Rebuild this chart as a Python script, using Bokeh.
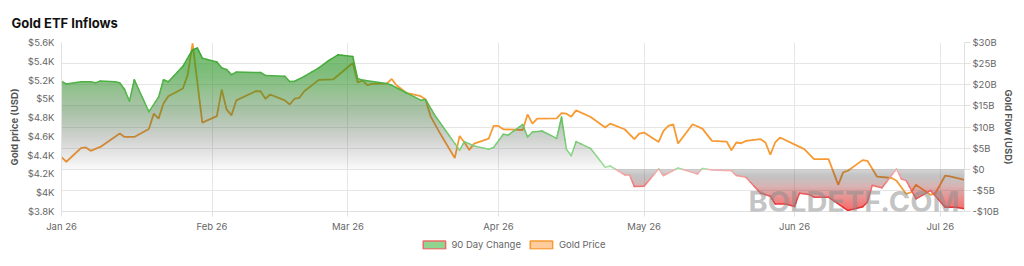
import numpy as np
import pandas as pd
from bokeh.plotting import figure
from bokeh.layouts import column
from bokeh.models import (Range1d, LinearAxis, FixedTicker, DatetimeTickFormatter,
                          Legend, LegendItem, Label)
from bokeh.embed import file_html
from bokeh.resources import INLINE

# ---------------- data ----------------
gold_dates = ["2026-01-01", "2026-01-02", "2026-01-05", "2026-01-06", "2026-01-07", "2026-01-09",
              "2026-01-13", "2026-01-14", "2026-01-16", "2026-01-19", "2026-01-20", "2026-01-21",
              "2026-01-22", "2026-01-23", "2026-01-26", "2026-01-27", "2026-01-28", "2026-01-30",
              "2026-02-02", "2026-02-03", "2026-02-04", "2026-02-05", "2026-02-06", "2026-02-10",
              "2026-02-11", "2026-02-12", "2026-02-13", "2026-02-16", "2026-02-17", "2026-02-18",
              "2026-02-19", "2026-02-20", "2026-02-23", "2026-02-26", "2026-03-02", "2026-03-03",
              "2026-03-04", "2026-03-05", "2026-03-06", "2026-03-09", "2026-03-10", "2026-03-11",
              "2026-03-13", "2026-03-16", "2026-03-17", "2026-03-18", "2026-03-20", "2026-03-23",
              "2026-03-24", "2026-03-25", "2026-03-26", "2026-03-27", "2026-03-30", "2026-03-31",
              "2026-04-01", "2026-04-02", "2026-04-06", "2026-04-07", "2026-04-08", "2026-04-09",
              "2026-04-13", "2026-04-14", "2026-04-15", "2026-04-16", "2026-04-17", "2026-04-20",
              "2026-04-23", "2026-04-24", "2026-04-27", "2026-04-29", "2026-04-30", "2026-05-01",
              "2026-05-04", "2026-05-05", "2026-05-06", "2026-05-07", "2026-05-08", "2026-05-11",
              "2026-05-13", "2026-05-15", "2026-05-18", "2026-05-19", "2026-05-20", "2026-05-21",
              "2026-05-22", "2026-05-25", "2026-05-26", "2026-05-27", "2026-05-28", "2026-05-29",
              "2026-06-03", "2026-06-05", "2026-06-08", "2026-06-10", "2026-06-11", "2026-06-12",
              "2026-06-15", "2026-06-16", "2026-06-18", "2026-06-21", "2026-06-22", "2026-06-24",
              "2026-06-25", "2026-06-26", "2026-06-29", "2026-06-30", "2026-07-02", "2026-07-03",
              "2026-07-06"]
gold_price = [4380, 4330, 4475, 4482, 4446, 4488,
              4630, 4594, 4594, 4679, 4842, 4789,
              4951, 5028, 5110, 5258, 5590, 4747,
              4816, 5099, 4887, 4824, 4983, 5081,
              5081, 5001, 5046, 4983, 4940, 5001,
              5011, 5081, 5202, 5208, 5382, 5176,
              5194, 5145, 5160, 5163, 5212, 5145,
              5064, 5028, 4993, 4816, 4630, 4369,
              4605, 4535, 4456, 4524, 4577, 4711,
              4711, 4676, 4668, 4834, 4736, 4789,
              4792, 4848, 4842, 4810, 4877, 4806,
              4694, 4736, 4676, 4570, 4630, 4641,
              4541, 4658, 4711, 4729, 4524, 4729,
              4683, 4552, 4545, 4453, 4535, 4527,
              4552, 4570, 4535, 4404, 4535, 4588,
              4464, 4358, 4358, 4083, 4217, 4234,
              4347, 4340, 4171, 4157, 4128, 3987,
              4005, 4086, 3977, 3995, 4181, 4175,
              4136]

flow_dates = ["2026-01-01", "2026-01-02", "2026-01-05", "2026-01-07", "2026-01-08", "2026-01-09",
              "2026-01-12", "2026-01-13", "2026-01-14", "2026-01-15", "2026-01-16", "2026-01-19",
              "2026-01-21", "2026-01-22", "2026-01-23", "2026-01-26", "2026-01-28", "2026-01-29",
              "2026-01-30", "2026-02-02", "2026-02-03", "2026-02-04", "2026-02-05", "2026-02-06",
              "2026-02-11", "2026-02-12", "2026-02-16", "2026-02-17", "2026-02-18", "2026-02-20",
              "2026-02-23", "2026-02-25", "2026-02-27", "2026-03-02", "2026-03-03", "2026-03-04",
              "2026-03-09", "2026-03-10", "2026-03-13", "2026-03-16", "2026-03-17", "2026-03-19",
              "2026-03-24", "2026-03-25", "2026-03-27", "2026-03-30", "2026-03-31", "2026-04-02",
              "2026-04-03", "2026-04-06", "2026-04-07", "2026-04-08", "2026-04-10", "2026-04-13",
              "2026-04-14", "2026-04-15", "2026-04-16", "2026-04-17", "2026-04-20", "2026-04-23",
              "2026-04-24", "2026-04-27", "2026-04-28", "2026-04-29", "2026-05-01", "2026-05-04",
              "2026-05-05", "2026-05-08", "2026-05-12", "2026-05-13", "2026-05-15", "2026-05-19",
              "2026-05-20", "2026-05-22", "2026-05-25", "2026-05-27", "2026-05-28", "2026-05-30",
              "2026-06-01", "2026-06-02", "2026-06-04", "2026-06-05", "2026-06-08", "2026-06-12",
              "2026-06-15", "2026-06-16", "2026-06-17", "2026-06-19", "2026-06-22", "2026-06-23",
              "2026-06-24", "2026-06-26", "2026-06-29", "2026-07-02", "2026-07-04", "2026-07-06"]
flow_bn = [20.8, 20.2, 20.7, 20.7, 20.45, 20.9,
           20.7, 20.45, 18.9, 16.1, 21.2, 13.6,
           17.1, 21.2, 20.7, 24.35, 28.3, 28.7,
           26.3, 25.4, 24.0, 23.6, 22.4, 23.0,
           22.9, 22.2, 22.0, 20.75, 20.8, 22.0,
           24.0, 25.7, 27.1, 26.7, 21.5, 21.1,
           20.3, 19.9, 18.1, 16.35, 16.5, 12.6,
           4.5, 6.55, 5.5, 4.75, 5.15, 8.3,
           8.1, 10.6, 7.65, 8.8, 9.05, 7.3,
           12.35, 4.75, 3.2, 6.55, 4.9, 0.45,
           0.8, -1.35, -1.35, -4.1, -4.0, 0.1,
           -1.5, 0.3, -1.1, 0.2, -0.2, -0.35,
           -1.5, -1.9, -5.67, -6.4, -8.2, -8.2,
           -8.8, -5.67, -6.0, -6.6, -6.6, -9.77,
           -8.9, -7.8, -3.8, -4.4, 0.1, -2.3,
           -2.7, -7.0, -5.05, -8.97, -8.97, -9.37]

price_ticks = [3800, 4000, 4200, 4400, 4600, 4800, 5000, 5200, 5400, 5600]
price_tick_labels = ["$3.8K", "$4K", "$4.2K", "$4.4K", "$4.6K", "$4.8K", "$5K", "$5.2K", "$5.4K", "$5.6K"]
flow_ticks = [-10, -5, 0, 5, 10, 15, 20, 25, 30]
flow_tick_labels = ["-$10B", "-$5B", "$0", "$5B", "$10B", "$15B", "$20B", "$25B", "$30B"]
month_ticks = ["2026-01-01", "2026-02-01", "2026-03-01", "2026-04-01", "2026-05-01", "2026-06-01", "2026-07-01"]
series_names = ["90 Day Change", "Gold Price"]

# ---------------- helpers ----------------
EPOCH = pd.Timestamp("1970-01-01")


def to_ms(ds):
    return ((pd.to_datetime(ds) - EPOCH) / pd.Timedelta(milliseconds=1)).to_numpy(dtype=float)


def densify(x, v, levels):
    """insert the points where the drawn polyline crosses the given levels"""
    xs, vs = [x[0]], [v[0]]
    for i in range(len(x) - 1):
        x0, x1, v0, v1 = x[i], x[i + 1], v[i], v[i + 1]
        cr = []
        for L in levels:
            if (v0 - L) * (v1 - L) < 0:
                t = (L - v0) / (v1 - v0)
                cr.append((t, L))
        cr.sort()
        for t, L in cr:
            xs.append(x0 + t * (x1 - x0))
            vs.append(L)
        xs.append(x1)
        vs.append(v1)
    return np.array(xs), np.array(vs)


def interp_stops(val, stops):
    ks = [s[0] for s in stops]
    order = np.argsort(ks)
    ks = np.array(ks)[order]
    vals = np.array([s[1] for s in stops], dtype=float)[order]
    return [float(np.interp(val, ks, vals[:, c])) for c in range(vals.shape[1])]


FILL_POS = [(0, (70, 70, 70, 0.03)), (3, (70, 70, 70, 0.12)), (7, (65, 75, 65, 0.24)),
            (12, (55, 105, 50, 0.38)), (20, (40, 140, 35, 0.60)), (30, (30, 155, 25, 0.82))]
FILL_NEG = [(0, (60, 60, 60, 0.22)), (-1.5, (60, 60, 60, 0.32)), (-4, (150, 50, 50, 0.40)),
            (-7, (220, 40, 40, 0.62)), (-10, (240, 30, 30, 0.85))]
LINE_POS = [(0, (160, 225, 160)), (6, (120, 205, 115)), (15, (90, 185, 80)), (30, (60, 165, 50))]
LINE_NEG = [(0, (245, 180, 180)), (-3, (240, 130, 130)), (-7, (235, 70, 70)), (-10, (230, 40, 40))]


def hexc(rgb):
    return "#%02x%02x%02x" % tuple(int(round(c)) for c in rgb[:3])


ORANGE = "#f79a33"
FONT = "Inter"
GRID = "#e6e6e6"

gold_x = to_ms(gold_dates)
flow_x = to_ms(flow_dates)
flow_v = np.array(flow_bn, dtype=float)
x_start = to_ms(month_ticks[:1])[0]
x_end = max(gold_x.max(), flow_x.max())

# ---------------- main figure ----------------
p = figure(width=1024, height=234, x_axis_type="datetime", y_axis_location="right",
           x_range=Range1d(x_start, x_end), y_range=Range1d(flow_ticks[0], flow_ticks[-1]),
           output_backend="svg", toolbar_location=None,
           min_border_left=61, min_border_right=60, min_border_top=42, min_border_bottom=22)
p.extra_y_ranges = {"gold": Range1d(price_ticks[0], price_ticks[-1])}
p.outline_line_color = None
p.background_fill_color = "white"
p.border_fill_color = "white"

p.title.text = "Gold ETF Inflows"
p.title.text_font = FONT
p.title.text_font_size = "13px"
p.title.text_font_style = "bold"
p.title.text_color = "#111111"
p.title.align = "left"
p.title.offset = -50
p.title.standoff = 23

# gold price line (drawn under the flow area)
p.line(gold_x, gold_price, y_range_name="gold", line_color=ORANGE, line_width=1.8)

# gradient area of the 90 day change (horizontal bands)
n_px = 170
lo, hi = flow_ticks[0], flow_ticks[-1]
levels = sorted(set([hi - k * (hi - lo) / n_px for k in range(n_px + 1)] + [0.0]))
for a, b in zip(levels[:-1], levels[1:]):
    xd, vd = densify(flow_x, flow_v, [a, b])
    if a >= 0:
        base = a
        active = vd > a + 1e-9
    else:
        base = b
        active = vd < b - 1e-9
    if not active.any():
        continue
    idx = np.nonzero(active)[0]
    i0 = max(idx[0] - 1, 0)
    i1 = min(idx[-1] + 1, len(vd) - 1)
    y2 = np.clip(vd[i0:i1 + 1], a, b)
    mid = (a + b) / 2
    rgba = interp_stops(mid, FILL_POS if mid >= 0 else FILL_NEG)
    p.varea(x=xd[i0:i1 + 1], y1=float(base), y2=y2, fill_color=hexc(rgba), fill_alpha=rgba[3])

# flow line, coloured by value
lv = sorted(set(list(np.arange(lo, hi + 1, 1.0)) + [0.0]))
xl, vl = densify(flow_x, flow_v, lv)
mids = (vl[:-1] + vl[1:]) / 2
cols = [hexc(interp_stops(m, LINE_POS if m >= 0 else LINE_NEG)) for m in mids]
p.segment(x0=xl[:-1], y0=vl[:-1], x1=xl[1:], y1=vl[1:], line_color=cols,
          line_width=1.5, line_cap="round")

# watermark
wm = Label(x=pd.Timestamp("2026-05-22 12:00"), y=-7.6, text="BOLDETF.COM",
           text_font=FONT, text_font_size="29px", text_font_style="bold",
           text_color="#8a8a8a", text_alpha=0.5, text_baseline="alphabetic")
p.add_layout(wm)

# ---------------- axes ----------------
right = p.yaxis[0]
right.ticker = FixedTicker(ticks=flow_ticks)
right.major_label_overrides = {t: s for t, s in zip(flow_ticks, flow_tick_labels)}
right.axis_label = "Gold Flow (USD)"
right.major_tick_out = 6
right.major_tick_in = 0
right.major_label_standoff = 2
p.ygrid.ticker = FixedTicker(ticks=flow_ticks)

left = LinearAxis(y_range_name="gold", ticker=FixedTicker(ticks=price_ticks))
left.major_label_overrides = {t: s for t, s in zip(price_ticks, price_tick_labels)}
left.axis_label = "Gold price (USD)"
left.major_tick_out = 0
left.major_tick_in = 0
left.major_label_standoff = 7
p.add_layout(left, "left")

xt = FixedTicker(ticks=list(to_ms(month_ticks)))
p.xaxis.ticker = xt
p.xgrid.ticker = xt
p.xaxis.formatter = DatetimeTickFormatter(months="%b %y", days="%b %y", hours="%b %y")
p.xaxis.major_tick_out = 5
p.xaxis.major_tick_in = 0
p.xaxis.major_label_standoff = 4

for ax in [right, left, p.xaxis[0]]:
    ax.axis_line_color = "#e0e0e0"
    ax.major_tick_line_color = "#e0e0e0"
    ax.minor_tick_line_color = None
    ax.major_label_text_font = FONT
    ax.major_label_text_font_size = "9.5px"
    ax.major_label_text_color = "#666666"
    ax.axis_label_text_font = FONT
    ax.axis_label_text_font_size = "9.5px"
    ax.axis_label_text_font_style = "bold"
    ax.axis_label_text_color = "#555555"
    ax.axis_label_standoff = 4
right.axis_label_standoff = 1

p.xgrid.grid_line_color = GRID
p.ygrid.grid_line_color = GRID

# ---------------- legend strip ----------------
lg = figure(width=1024, height=20, x_range=Range1d(0, 1), y_range=Range1d(0, 1),
            output_backend="svg", toolbar_location=None,
            x_axis_location=None, y_axis_location=None, min_border=0)
lg.outline_line_color = None
lg.grid.visible = False
lg.background_fill_color = "white"
lg.border_fill_color = "white"
r_flow = lg.quad(left=[np.nan], right=[np.nan], top=[np.nan], bottom=[np.nan],
                 fill_color="#8fd48f", line_color="#ee6b6b", line_width=1.5)
r_gold = lg.quad(left=[np.nan], right=[np.nan], top=[np.nan], bottom=[np.nan],
                 fill_color="#ffcc9e", line_color=ORANGE, line_width=1.5)
legend = Legend(items=[LegendItem(label=series_names[0], renderers=[r_flow]),
                       LegendItem(label=series_names[1], renderers=[r_gold])],
                orientation="horizontal", location="center",
                glyph_width=28, glyph_height=10, label_height=10,
                label_text_font=FONT, label_text_font_size="9.5px", label_text_color="#666666",
                label_standoff=4, spacing=6, padding=0, margin=0,
                border_line_alpha=0, background_fill_alpha=0)
lg.add_layout(legend)

layout = column(p, lg, spacing=0)
open("out.html", "w").write(file_html(layout, INLINE))
